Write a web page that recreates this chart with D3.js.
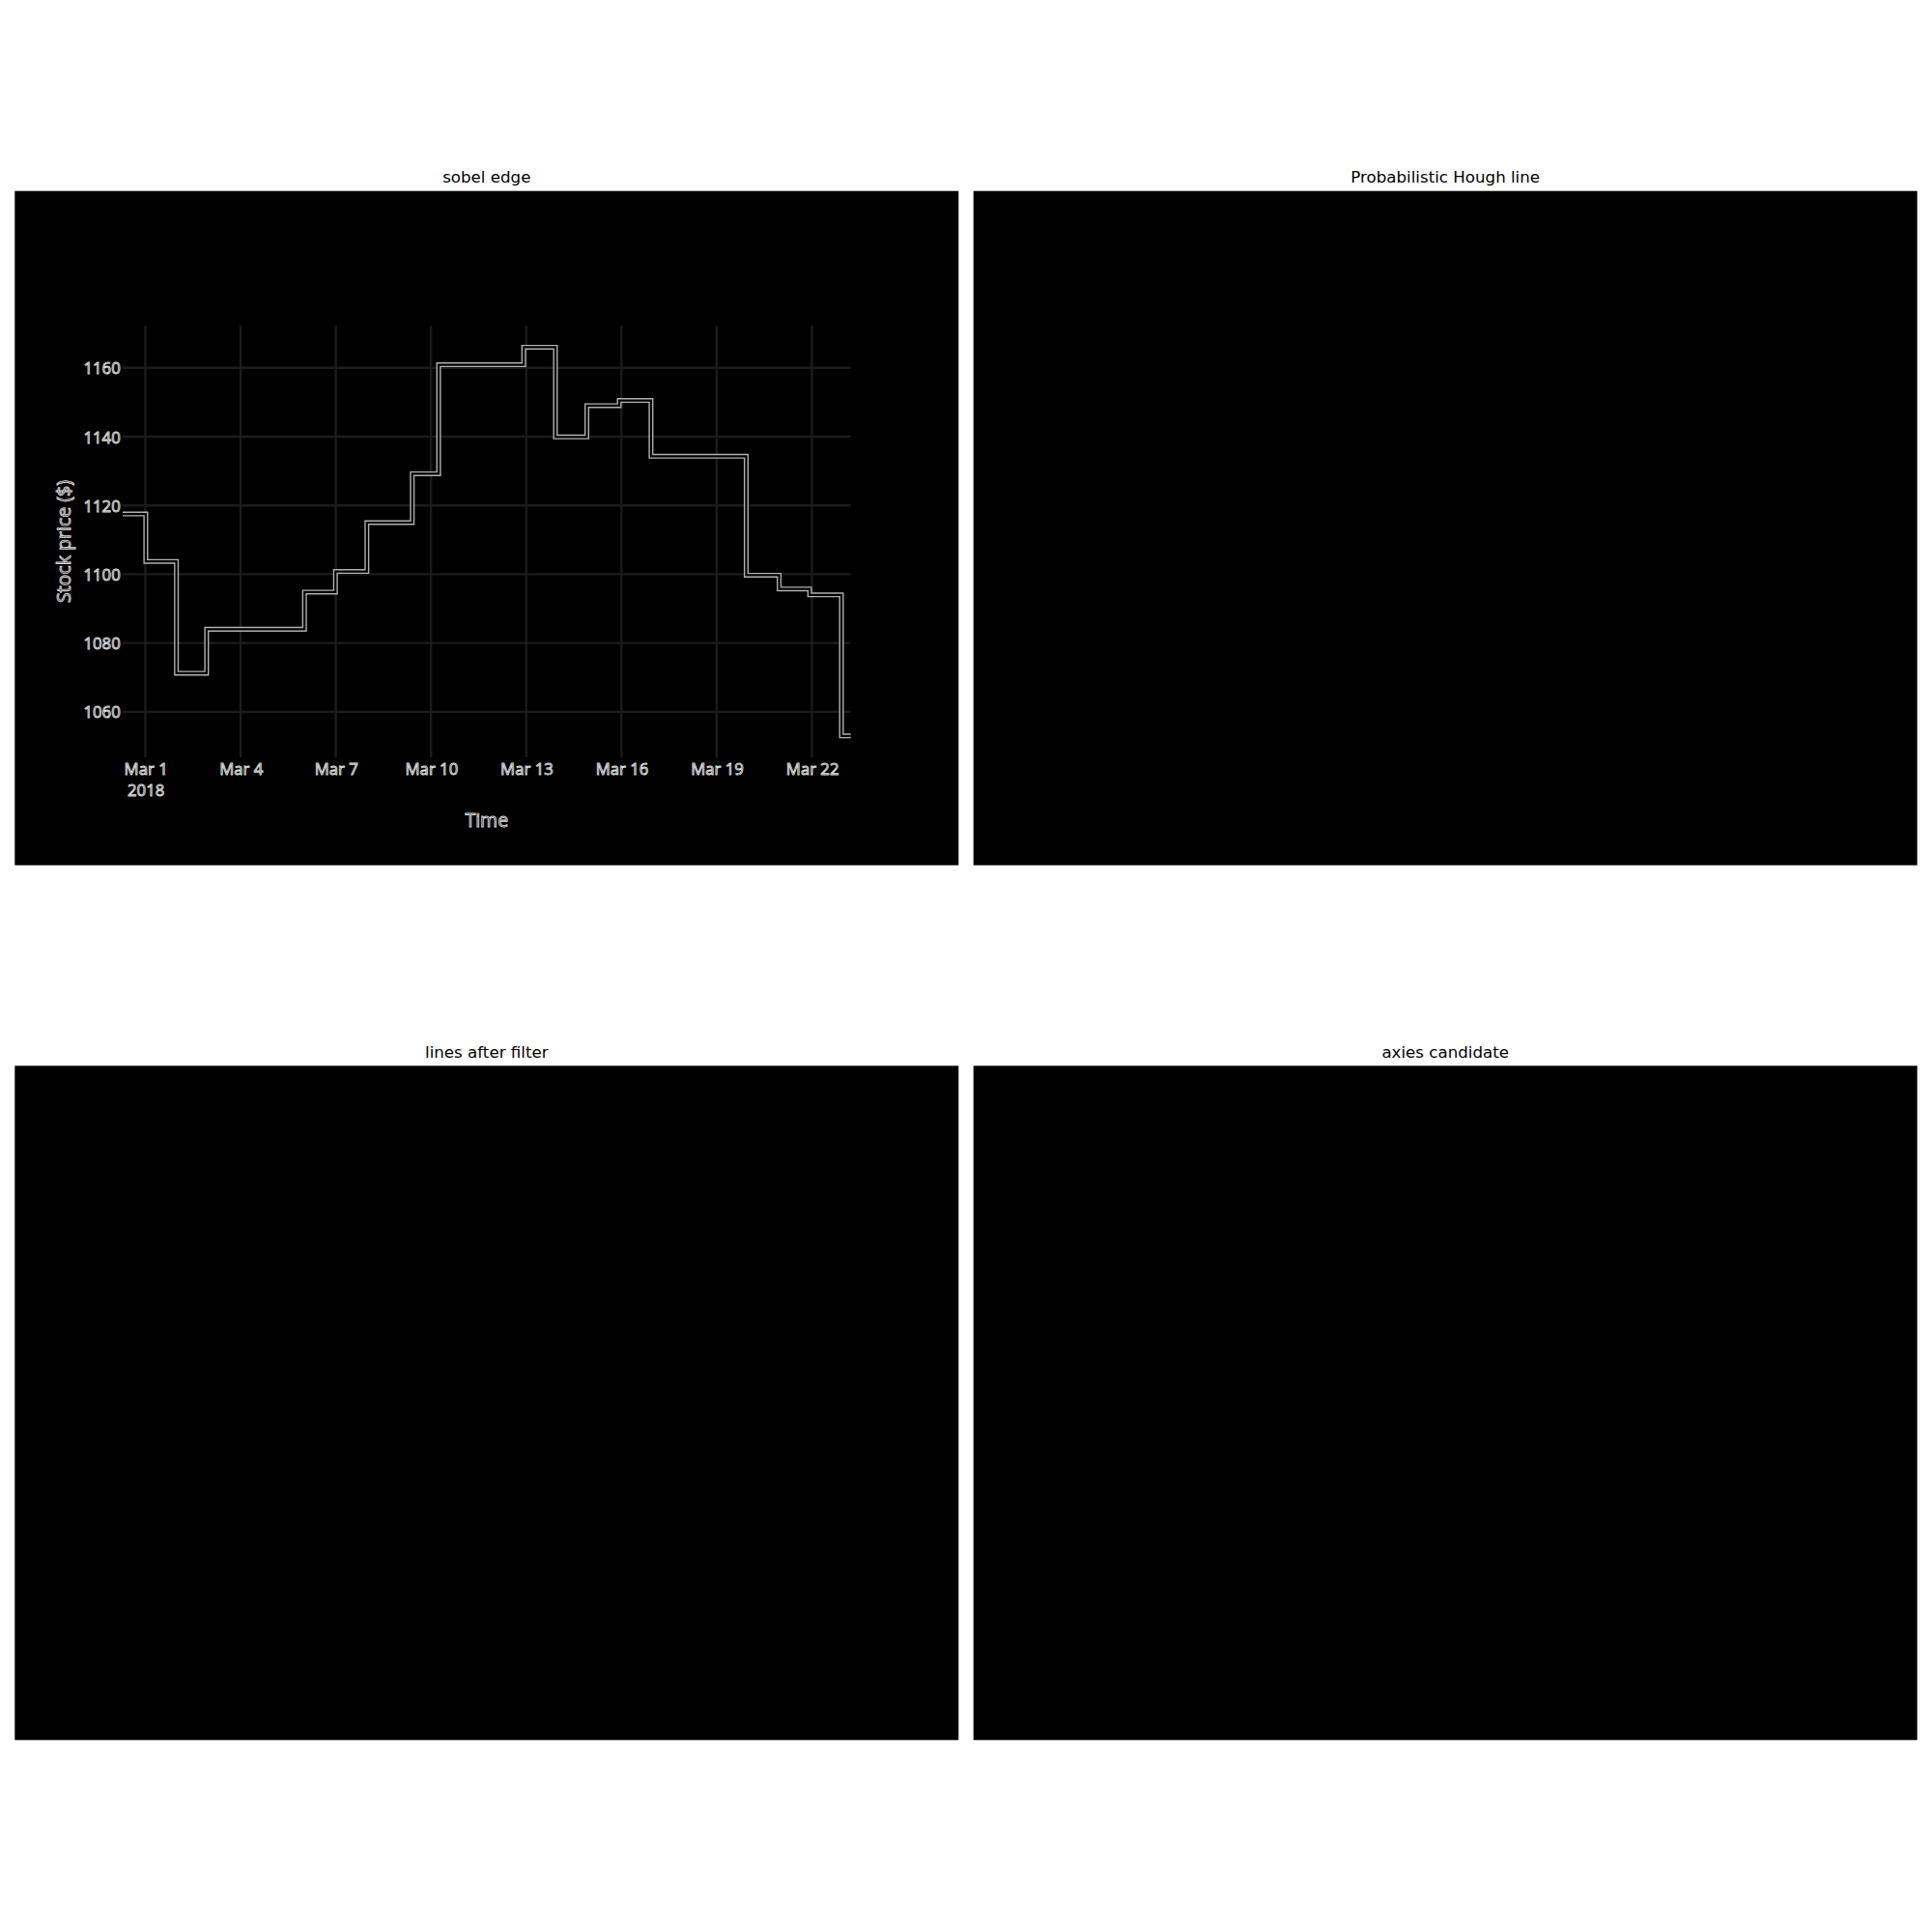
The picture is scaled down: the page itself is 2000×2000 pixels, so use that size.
<!DOCTYPE html>
<html>
<head>
<meta charset="utf-8">
<script src="https://cdn.jsdelivr.net/npm/d3@7"></script>
<style>
  html, body { margin: 0; padding: 0; background: #ffffff; }
  svg { display: block; }
</style>
</head>
<body>
<script>
// ---------------- data ----------------
const panelTitles = ["sobel edge", "Probabilistic Hough line", "lines after filter", "axies candidate"];

// step line (start of each horizontal segment)
const stepDates = [
  "2018-02-28T06:50", "2018-03-01T00:20", "2018-03-01T23:30", "2018-03-02T22:20",
  "2018-03-06T00:20", "2018-03-06T23:45", "2018-03-07T23:30", "2018-03-09T09:50",
  "2018-03-10T05:45", "2018-03-12T22:05", "2018-03-13T22:05", "2018-03-14T21:50",
  "2018-03-15T22:20", "2018-03-16T22:20", "2018-03-19T22:20", "2018-03-20T23:15",
  "2018-03-21T22:20", "2018-03-22T22:20", "2018-03-23T05:20"
];
const stockPrices = [
  1117.5, 1103.7, 1071.2, 1084.0,
  1094.8, 1100.8, 1115.0, 1129.2,
  1160.9, 1166.0, 1139.9, 1149.0,
  1150.5, 1134.3, 1099.7, 1095.7,
  1094.0, 1053.0, 1053.0
];

const xTickDates = ["2018-03-01", "2018-03-04", "2018-03-07", "2018-03-10", "2018-03-13", "2018-03-16", "2018-03-19", "2018-03-22"];
const xTickLabels = ["Mar 1|2018", "Mar 4", "Mar 7", "Mar 10", "Mar 13", "Mar 16", "Mar 19", "Mar 22"];
const yTickValues = [1060, 1080, 1100, 1120, 1140, 1160];
const yTickLabels = ["1060", "1080", "1100", "1120", "1140", "1160"];
const xAxisTitle = "Time";
const yAxisTitle = "Stock price ($)";

// ---------------- layout ----------------
const W = 2000, H = 2000;
const panelW = 977, panelH = 698;
const panelX = [15.3, 1007.7];
const panelY = [197.7, 1103.3];

const svg = d3.select("body").append("svg")
  .attr("width", W).attr("height", H)
  .attr("viewBox", `0 0 ${W} ${H}`);
svg.append("rect").attr("width", W).attr("height", H).attr("fill", "#ffffff");

const panels = [];
for (let r = 0; r < 2; r++) for (let c = 0; c < 2; c++) panels.push({x: panelX[c], y: panelY[r]});

panels.forEach((p, i) => {
  svg.append("rect")
    .attr("x", p.x).attr("y", p.y)
    .attr("width", panelW).attr("height", panelH)
    .attr("fill", "#000000");
  svg.append("text")
    .attr("x", p.x + panelW / 2)
    .attr("y", p.y - 8.8)
    .attr("text-anchor", "middle")
    .attr("font-family", "DejaVu Sans, sans-serif")
    .attr("font-size", 16.67)
    .attr("fill", "#000000")
    .text(panelTitles[i]);
});

// ---------------- inner (edge) chart, in 700x500 source units ----------------
const s = panelW / 700;
const g = svg.append("g").attr("transform", `translate(${panelX[0]},${panelY[0]}) scale(${s})`);
const plot = {l: 80, r: 620, t: 100, b: 420};

const parse = d3.timeParse("%Y-%m-%dT%H:%M");
const parseDay = d3.timeParse("%Y-%m-%d");
const pts = stepDates.map((d, i) => ({date: parse(d), v: stockPrices[i]}));

const x = d3.scaleTime().domain(d3.extent(pts, d => d.date)).range([plot.l, plot.r]);
const [vmin, vmax] = d3.extent(stockPrices);
const pad = (vmax - vmin) * 0.055;
const y = d3.scaleLinear().domain([vmin - pad, vmax + pad]).range([plot.b, plot.t]);

const gridColor = "#1c1c1c";
// vertical grid
g.append("g").selectAll("line").data(xTickDates).join("line")
  .attr("x1", d => x(parseDay(d))).attr("x2", d => x(parseDay(d)))
  .attr("y1", plot.t).attr("y2", plot.b)
  .attr("stroke", gridColor).attr("stroke-width", 1.7);
// horizontal grid
g.append("g").selectAll("line").data(yTickValues).join("line")
  .attr("x1", plot.l).attr("x2", plot.r)
  .attr("y1", d => y(d)).attr("y2", d => y(d))
  .attr("stroke", gridColor).attr("stroke-width", 1.7);

// step line rendered as double edge
const line = d3.line().x(d => x(d.date)).y(d => y(d.v)).curve(d3.curveStepAfter);
g.append("path").datum(pts).attr("d", line)
  .attr("fill", "none").attr("stroke", "#b0b0b0").attr("stroke-width", 3.6)
  .attr("stroke-linejoin", "miter");
g.append("path").datum(pts).attr("d", line)
  .attr("fill", "none").attr("stroke", "#000000").attr("stroke-width", 1.6)
  .attr("stroke-linejoin", "miter");

const textStyle = sel => sel
  .attr("font-family", "'Open Sans', sans-serif")
  .attr("fill", "#1a1a1a")
  .attr("stroke", "#dcdcdc")
  .attr("stroke-width", 0.65);

// x axis
const xAxis = d3.axisBottom(x)
  .tickValues(xTickDates.map(parseDay))
  .tickSize(0).tickPadding(0)
  .tickFormat(() => "");
const gx = g.append("g").attr("transform", `translate(0,${plot.b})`).call(xAxis);
gx.select(".domain").remove();
gx.selectAll(".tick text").remove();
gx.selectAll(".tick").each(function(d, i) {
  const parts = xTickLabels[i].split("|");
  const t = d3.select(this).append("text")
    .attr("text-anchor", "middle")
    .attr("font-size", 12)
    .call(textStyle);
  parts.forEach((p, k) => {
    t.append("tspan").attr("x", 0).attr("y", 13 + k * 15.7).text(p);
  });
});

// y axis
const yAxis = d3.axisLeft(y).tickValues(yTickValues).tickSize(0).tickPadding(0).tickFormat((d, i) => yTickLabels[i]);
const gy = g.append("g").attr("transform", `translate(${plot.l - 1.6},0)`).call(yAxis);
gy.select(".domain").remove();
gy.selectAll(".tick text")
  .attr("font-size", 12).attr("dy", "0.35em")
  .call(textStyle);

// axis titles
g.append("text")
  .attr("x", (plot.l + plot.r) / 2).attr("y", 471.5)
  .attr("text-anchor", "middle").attr("font-size", 14)
  .call(textStyle)
  .text(xAxisTitle);
g.append("text")
  .attr("transform", `translate(36.7,${(plot.t + plot.b) / 2}) rotate(-90)`)
  .attr("text-anchor", "middle").attr("dy", "0.35em").attr("font-size", 14)
  .call(textStyle)
  .text(yAxisTitle);
</script>
</body>
</html>
